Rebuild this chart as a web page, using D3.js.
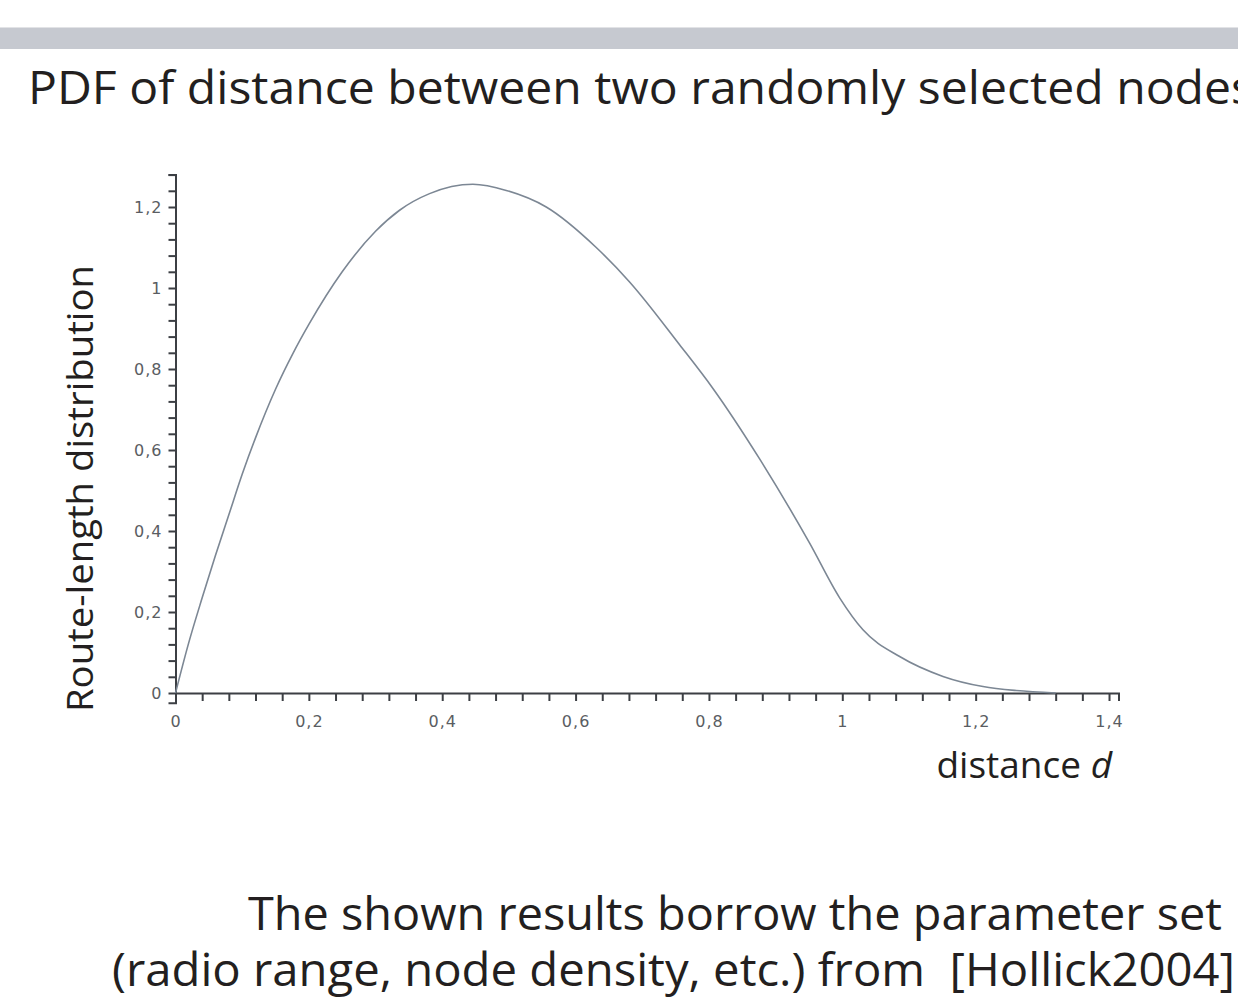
<!DOCTYPE html>
<html>
<head>
<meta charset="utf-8">
<script src="https://cdn.jsdelivr.net/npm/d3@7"></script>
<style>
  html, body { margin: 0; padding: 0; background: #fff; }
  svg { display: block; }
</style>
</head>
<body>
<svg id="canvas"></svg>
<script>
// values
const distance = [0, 0.02, 0.04, 0.06, 0.08, 0.1, 0.12, 0.15, 0.176, 0.2, 0.25, 0.3, 0.336, 0.381, 0.446,
    0.496, 0.556, 0.631, 0.681, 0.756, 0.806, 0.876, 0.951, 0.996, 1.031, 1.086, 1.151, 1.211, 1.261, 1.32];
const density = [0, 0.125, 0.235, 0.34, 0.44, 0.54, 0.63, 0.75, 0.838, 0.91, 1.04, 1.14, 1.192, 1.233, 1.256,
    1.241, 1.2, 1.1, 1.015, 0.86, 0.752, 0.578, 0.37, 0.235, 0.156, 0.09, 0.041, 0.016, 0.006, 0];
const xTicks = d3.range(0, 36).map(i => i * 0.04);
const yTicks = d3.range(0, 33).map(i => i * 0.04);
const labelStep = 0.2;

const titleText = "PDF of distance between two randomly selected nodes";
const yLabel = "Route-length distribution";
const noteLines = ["The shown results borrow the parameter set", "(radio range, node density, etc.) from  [Hollick2004]"];

const width = 1238;
const height = 1000;
const svg = d3.select("#canvas").attr("width", width).attr("height", height).attr("viewBox", `0 0 ${width} ${height}`);

const bigFont = "'Open Sans', 'Noto Sans', sans-serif";

// grey band at the top
svg.append("rect").attr("x", 0).attr("y", 27).attr("width", width).attr("height", 1).attr("fill", "#e2e3e6");
svg.append("rect").attr("x", 0).attr("y", 28).attr("width", width).attr("height", 21).attr("fill", "#c6c9d0");

svg.append("text")
    .attr("x", 28).attr("y", 104)
    .attr("textLength", 1226).attr("lengthAdjust", "spacingAndGlyphs")
    .style("font-family", bigFont).style("font-size", "46px").attr("fill", "#231f20")
    .text(titleText);

const xScale = d3.scaleLinear().domain([0, Math.SQRT2]).range([175.5, 175.5 + Math.SQRT2 * 666.8]);
const yScale = d3.scaleLinear().domain([-0.024, 1.28]).range([693 + 0.024 * 405, 693 - 1.28 * 405]);

const isLabel = v => Math.abs(v / labelStep - Math.round(v / labelStep)) < 1e-6;
const fmt = v => isLabel(v) ? d3.format("~g")(+v.toFixed(2)).replace(".", ",") : "";

const xAxis = d3.axisBottom(xScale).tickValues(xTicks).tickSize(8).tickSizeOuter(8).tickFormat(fmt);
const yAxis = d3.axisLeft(yScale).tickValues(yTicks).tickSize(7).tickSizeOuter(7).tickFormat(fmt);

const axisColor = "#3c3f44";

const xGroup = svg.append("g").attr("transform", `translate(0, ${yScale(0)})`).call(xAxis);
const yGroup = svg.append("g").attr("transform", `translate(${xScale(0)}, 0)`).call(yAxis);

[xGroup, yGroup].forEach(g => {
    g.select(".domain").attr("stroke", axisColor).attr("stroke-width", 2);
    g.selectAll(".tick line").attr("stroke", axisColor).attr("stroke-width", 2);
    g.selectAll(".tick text")
        .attr("fill", "#5a5d62")
        .style("font-family", "'DejaVu Sans', sans-serif")
        .style("font-size", "16px")
        .style("letter-spacing", "1px");
});
xGroup.selectAll(".tick text").attr("y", 34).attr("dy", 0);
yGroup.selectAll(".tick text").attr("x", -13);

// curve
const line = d3.line()
    .x((d, i) => xScale(distance[i]))
    .y(d => yScale(d))
    .curve(d3.curveMonotoneX);

svg.append("path")
    .datum(density)
    .attr("d", line)
    .attr("fill", "none")
    .attr("stroke", "#7c8794")
    .attr("stroke-width", 1.6);

// axis titles
const xLabel = svg.append("text")
    .attr("x", 1112).attr("y", 778)
    .attr("text-anchor", "end")
    .style("font-family", bigFont).style("font-size", "37px").attr("fill", "#231f20");
xLabel.append("tspan").text("distance ");
xLabel.append("tspan").style("font-style", "italic").text("d");

svg.append("text")
    .attr("transform", `translate(93, 712) rotate(-90)`)
    .attr("textLength", 447).attr("lengthAdjust", "spacingAndGlyphs")
    .style("font-family", bigFont).style("font-size", "37px").attr("fill", "#231f20")
    .text(yLabel);

// note at the bottom
svg.append("text")
    .attr("x", 1222).attr("y", 930)
    .attr("text-anchor", "end")
    .attr("textLength", 974).attr("lengthAdjust", "spacingAndGlyphs")
    .style("font-family", bigFont).style("font-size", "46px").attr("fill", "#231f20")
    .text(noteLines[0]);

svg.append("text")
    .attr("x", 112).attr("y", 986)
    .attr("textLength", 1123).attr("lengthAdjust", "spacingAndGlyphs")
    .style("font-family", bigFont).style("font-size", "46px").attr("fill", "#231f20")
    .attr("xml:space", "preserve")
    .text(noteLines[1]);
</script>
</body>
</html>
